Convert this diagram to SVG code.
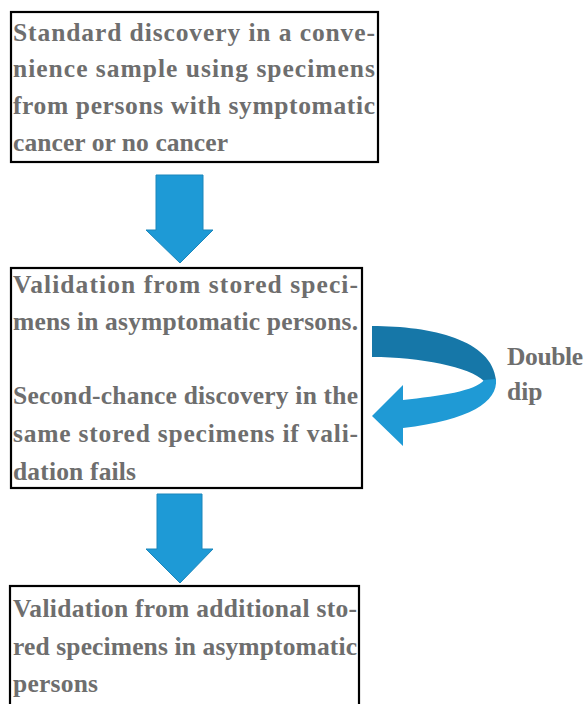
<svg xmlns="http://www.w3.org/2000/svg" width="585" height="704" viewBox="0 0 585 704">
  <style>
    .box { fill: #ffffff; stroke: #000000; stroke-width: 2.2; }
    .txt { font-family: "Liberation Serif", "Times New Roman", serif; font-weight: bold; font-size: 25.5px; fill: #6e6e6e; }
    .flow { fill: #1e9ad6; stroke: #1a86bb; stroke-width: 1; }
    .loop-top { fill: #1677a8; }
    .loop-bot { fill: #1f9ad5; }
  </style>
  <rect width="585" height="704" fill="#ffffff"/>

  <g id="node-discovery">
    <rect class="box" x="11" y="12" width="367" height="150"/>
    <text class="txt" x="13" y="41" textLength="362" lengthAdjust="spacing">Standard discovery in a conve-</text>
    <text class="txt" x="13" y="77" textLength="362" lengthAdjust="spacing">nience sample using specimens</text>
    <text class="txt" x="13" y="114" textLength="362" lengthAdjust="spacing">from persons with symptomatic</text>
    <text class="txt" x="13" y="151" textLength="215" lengthAdjust="spacing">cancer or no cancer</text>
  </g>

  <g id="node-validation">
    <rect class="box" x="11" y="268" width="351" height="220"/>
    <text class="txt" x="13" y="293" textLength="345" lengthAdjust="spacing">Validation from stored speci-</text>
    <text class="txt" x="13" y="330" textLength="345" lengthAdjust="spacing">mens in asymptomatic persons.</text>
    <text class="txt" x="13" y="404" textLength="345" lengthAdjust="spacing">Second-chance discovery in the</text>
    <text class="txt" x="13" y="442" textLength="345" lengthAdjust="spacing">same stored specimens if vali-</text>
    <text class="txt" x="13" y="480" textLength="123" lengthAdjust="spacing">dation fails</text>
  </g>

  <g id="node-additional">
    <rect class="box" x="10" y="586" width="349" height="130"/>
    <text class="txt" x="13" y="617" textLength="344" lengthAdjust="spacing">Validation from additional sto-</text>
    <text class="txt" x="13" y="655" textLength="344" lengthAdjust="spacing">red specimens in asymptomatic</text>
    <text class="txt" x="13" y="692" textLength="85" lengthAdjust="spacing">persons</text>
  </g>

  <g id="node-double-dip-label">
    <text class="txt" x="507" y="365" textLength="76" lengthAdjust="spacing">Double</text>
    <text class="txt" x="507" y="400">dip</text>
  </g>

  <g id="connectors">
    <!-- block arrow: discovery to validation -->
    <path class="flow" d="M156,175 H203 V230 H213 L180,263 L146,230 H156 Z"/>
    <!-- block arrow: validation to additional validation -->
    <path class="flow" d="M157,494 H202 V549 H213 L180,583 L146,549 H157 Z"/>
    <!-- curved loop arrow: double dip back into the same box -->
    <path class="loop-top" d="M372,326 C432,326 492,340 496,380 L484,381 C470,367 420,357 372,357 Z"/>
    <path class="loop-bot" d="M496,379 C498,402 470,420 403,428 L403,446 L372,416 L403,385 L403,400 C440,396 476,391 484,380 Z"/>
  </g>
</svg>
